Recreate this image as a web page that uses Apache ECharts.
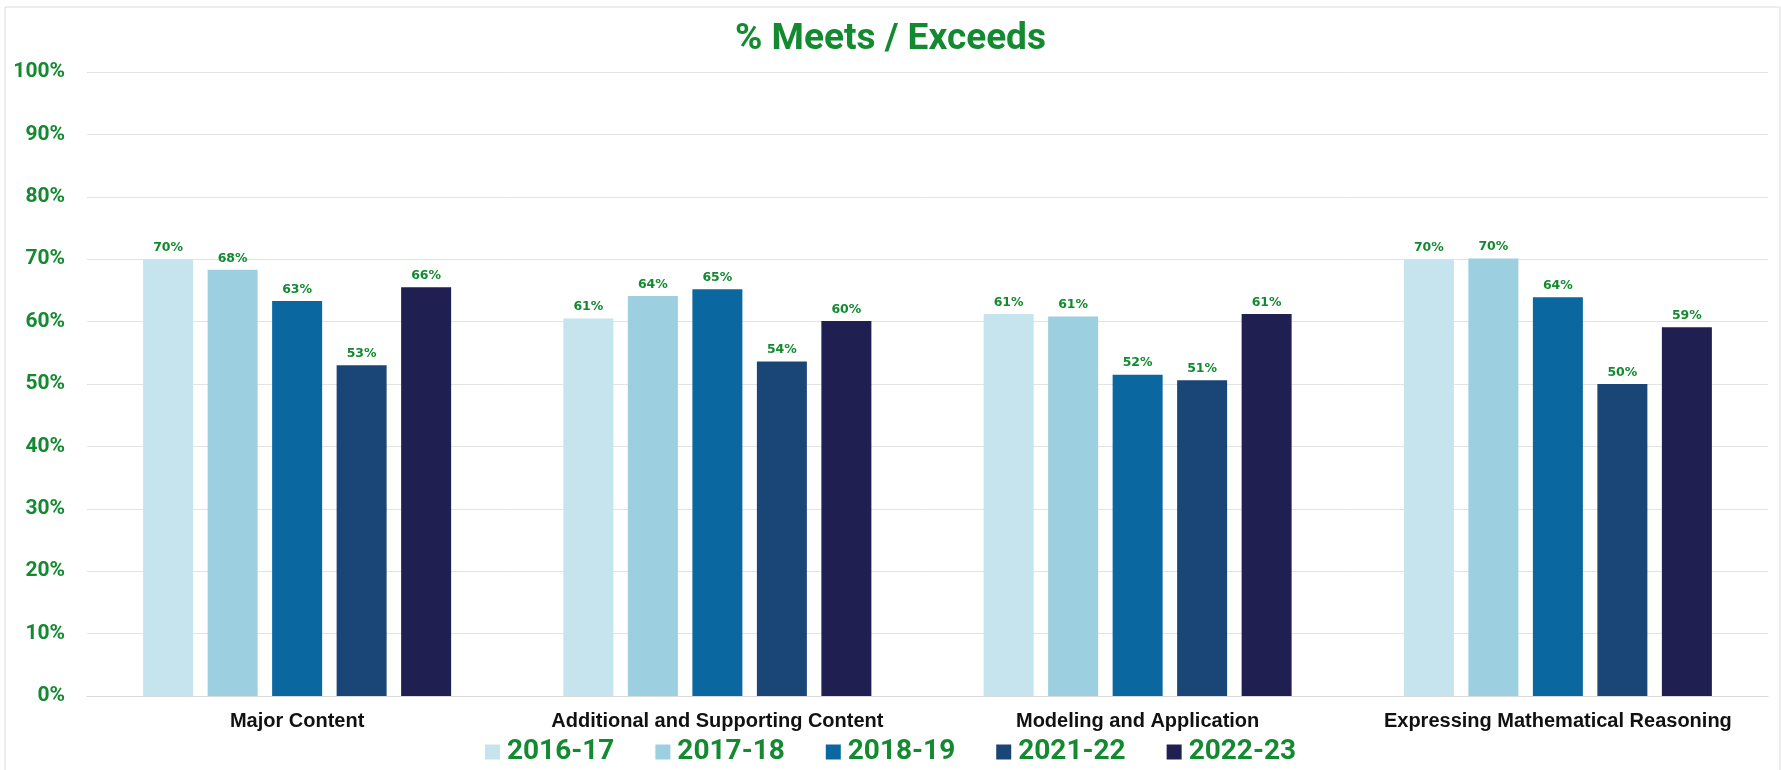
<!DOCTYPE html>
<html>
<head>
<meta charset="utf-8">
<title>% Meets / Exceeds</title>
<script src="https://cdn.jsdelivr.net/npm/echarts@6/dist/echarts.min.js"></script>
<style>
  html, body { margin: 0; padding: 0; background: #fff; }
  #chart { width: 1781px; height: 770px; }
</style>
</head>
<body>
<div id="chart"></div>
<script>
var categories = ['Major Content', 'Additional and Supporting Content', 'Modeling and Application', 'Expressing Mathematical Reasoning'];
var years = ['2016-17', '2017-18', '2018-19', '2021-22', '2022-23'];
var colors = ['#c5e4ed', '#9ccfe0', '#0a67a0', '#1a4677', '#1f1f52'];

// one array per school year, values in %
var y2016 = [70.0, 60.5, 61.2, 70.0];
var y2017 = [68.3, 64.1, 60.8, 70.1];
var y2018 = [63.3, 65.2, 51.5, 63.9];
var y2021 = [53.0, 53.6, 50.6, 50.0];
var y2022 = [65.5, 60.1, 61.2, 59.1];
var yearValues = [y2016, y2017, y2018, y2021, y2022];

var green = '#138a30';

var myChart = echarts.init(document.getElementById('chart'));

var series = years.map(function (name, i) {
    return {
        name: name,
        type: 'bar',
        data: yearValues[i],
        barWidth: 50,
        barGap: '29%',
        itemStyle: { color: colors[i] },
        label: {
            show: true,
            position: 'top',
            distance: 5,
            color: green,
            fontFamily: 'DejaVu Sans',
            fontWeight: 'bold',
            fontSize: 12.5,
            formatter: function (p) {
                return Math.round(p.value) + '%';
            }
        }
    };
});

var option = {
    animation: false,
    color: colors,
    title: {
        text: '% Meets / Exceeds',
        left: 'center',
        top: 16,
        textStyle: {
            color: green,
            fontFamily: 'Roboto',
            fontWeight: 'bold',
            fontSize: 37
        }
    },
    graphic: [{
        type: 'rect',
        shape: { x: 5, y: 7, width: 1775, height: 770 },
        style: { fill: 'none', stroke: '#dcdcdc', lineWidth: 1 },
        silent: true
    }],
    legend: {
        data: years,
        top: 738,
        padding: 0,
        left: 'center',
        icon: 'rect',
        itemWidth: 15,
        itemHeight: 15,
        itemGap: 41,
        textStyle: {
            color: green,
            fontFamily: 'Roboto',
            fontWeight: 'bold',
            fontSize: 28,
            padding: [0, 0, 0, 2]
        }
    },
    grid: {
        left: 87,
        right: 13,
        top: 72,
        bottom: 74
    },
    xAxis: {
        type: 'category',
        data: categories,
        axisLine: { lineStyle: { color: '#d9d9d9' } },
        axisTick: { show: false },
        axisLabel: {
            interval: 0,
            margin: 15,
            color: '#111',
            fontFamily: 'Liberation Sans',
            fontWeight: 'bold',
            fontSize: 20
        }
    },
    yAxis: {
        type: 'value',
        min: 0,
        max: 100,
        interval: 10,
        axisLine: { show: false },
        axisTick: { show: false },
        splitLine: { lineStyle: { color: '#e3e3e3' } },
        axisLabel: {
            margin: 22,
            color: green,
            fontFamily: 'Roboto',
            fontWeight: 'bold',
            fontSize: 21,
            formatter: '{value}%'
        }
    },
    series: series
};

myChart.setOption(option);
</script>
</body>
</html>
